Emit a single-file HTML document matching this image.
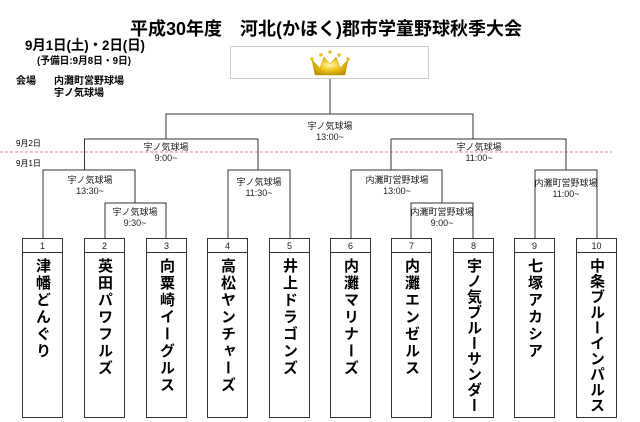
<!DOCTYPE html>
<html><head><meta charset="utf-8"><style>
html,body{margin:0;padding:0;background:#fff;overflow:hidden;}
svg{display:block;font-family:"Liberation Sans","Noto Sans CJK JP",sans-serif;}
.vt{writing-mode:vertical-rl;}
</style></head><body>
<svg width="640" height="422" viewBox="0 0 640 422" xmlns="http://www.w3.org/2000/svg">
<defs>
<radialGradient id="g" cx="50%" cy="45%" r="60%">
<stop offset="0" stop-color="#fff6b0"/><stop offset="0.5" stop-color="#f0c419"/><stop offset="1" stop-color="#b88a00"/>
</radialGradient>
</defs>
<text x="326" y="35" font-size="18" font-weight="bold" text-anchor="middle" textLength="392" lengthAdjust="spacingAndGlyphs">平成30年度　河北(かほく)郡市学童野球秋季大会</text>
<text x="25" y="50" font-size="14" font-weight="bold" textLength="120" lengthAdjust="spacingAndGlyphs">9月1日(土)・2日(日)</text>
<text x="37" y="64" font-size="10" font-weight="bold" textLength="94" lengthAdjust="spacingAndGlyphs">(予備日:9月8日・9日)</text>
<text x="16" y="84" font-size="10" font-weight="bold">会場</text>
<text x="54" y="84" font-size="10" font-weight="bold">内灘町営野球場</text>
<text x="54" y="96" font-size="10" font-weight="bold">宇ノ気球場</text>
<rect x="230.5" y="46.5" width="198" height="32" fill="#fff" stroke="#ccc"/>
<path d="M312 60 L320 68 L324 57 L330 64 L336 57 L340 68 L348 60 L345 75 L315 75 Z" fill="url(#g)" stroke="#c9a000" stroke-width="0.5"/>
<g fill="#e8c030"><circle cx="312" cy="59" r="1.8"/><circle cx="321" cy="55" r="1.8"/><circle cx="330" cy="52" r="1.8"/><circle cx="339" cy="55" r="1.8"/><circle cx="348" cy="59" r="1.8"/></g>
<line x1="0" y1="152" x2="612" y2="152" stroke="#e06060" stroke-width="0.8" stroke-dasharray="3,2"/>
<text x="16" y="146" font-size="8">9月2日</text>
<text x="16" y="166" font-size="8">9月1日</text>
<g fill="none" stroke="#333" stroke-width="1">
<path d="M330 79 V114 M166 139 V114 H473 V139"/>
<path d="M84.5 170 V139 H258 V170"/>
<path d="M391 170 V139 H566 V170"/>
<path d="M43 238 V170 H135 V203"/>
<path d="M105 238 V203 H166 V238"/>
<path d="M228 238 V170 H290 V238"/>
<path d="M351 238 V170 H442 V203"/>
<path d="M411 238 V203 H473 V238"/>
<path d="M535 238 V170 H597 V238"/>
</g>
<g font-size="9" text-anchor="middle" fill="#222">
<text x="330" y="129">宇ノ気球場</text><text x="330" y="140">13:00~</text>
<text x="166" y="150">宇ノ気球場</text><text x="166" y="161">9:00~</text>
<text x="479" y="150">宇ノ気球場</text><text x="479" y="161">11:00~</text>
<text x="90" y="183">宇ノ気球場</text><text x="90" y="194">13:30~</text>
<text x="259" y="185">宇ノ気球場</text><text x="259" y="196">11:30~</text>
<text x="397" y="183">内灘町営野球場</text><text x="397" y="194">13:00~</text>
<text x="566" y="186">内灘町営野球場</text><text x="566" y="197">11:00~</text>
<text x="135" y="215">宇ノ気球場</text><text x="135" y="226">9:30~</text>
<text x="442" y="215">内灘町営野球場</text><text x="442" y="226">9:00~</text>
</g>
<g fill="#fff" stroke="#333" stroke-width="1">
<rect x="22.5" y="238.5" width="40" height="179"/><rect x="84.5" y="238.5" width="40" height="179"/>
<rect x="146.5" y="238.5" width="40" height="179"/><rect x="207.5" y="238.5" width="40" height="179"/>
<rect x="269.5" y="238.5" width="40" height="179"/><rect x="330.5" y="238.5" width="40" height="179"/>
<rect x="391.5" y="238.5" width="40" height="179"/><rect x="453.5" y="238.5" width="40" height="179"/>
<rect x="514.5" y="238.5" width="40" height="179"/><rect x="576.5" y="238.5" width="40" height="179"/>
<path d="M22 252.5h41M84 252.5h41M146 252.5h41M207 252.5h41M269 252.5h41M330 252.5h41M391 252.5h41M453 252.5h41M514 252.5h41M576 252.5h41"/>
</g>
<g font-size="9" text-anchor="middle" fill="#222">
<text x="42.5" y="249">1</text><text x="104.5" y="249">2</text><text x="166.5" y="249">3</text><text x="227.5" y="249">4</text><text x="289.5" y="249">5</text><text x="350.5" y="249">6</text><text x="411.5" y="249">7</text><text x="473.5" y="249">8</text><text x="534.5" y="249">9</text><text x="596.5" y="249">10</text>
</g>
<g font-size="15" font-weight="bold" class="vt" fill="#000" letter-spacing="2">
<text x="42.5" y="258">津幡どんぐり</text>
<text x="104.5" y="258">英田パワフルズ</text>
<text x="166.5" y="258">向粟崎イーグルス</text>
<text x="227.5" y="258">高松ヤンチャーズ</text>
<text x="289.5" y="258">井上ドラゴンズ</text>
<text x="350.5" y="258">内灘マリナーズ</text>
<text x="411.5" y="258">内灘エンゼルス</text>
<text x="473.5" y="258" letter-spacing="0.5">宇ノ気ブルーサンダー</text>
<text x="534.5" y="258">七塚アカシア</text>
<text x="596.5" y="258" letter-spacing="0.5">中条ブルーインパルス</text>
</g>
</svg>
</body></html>
